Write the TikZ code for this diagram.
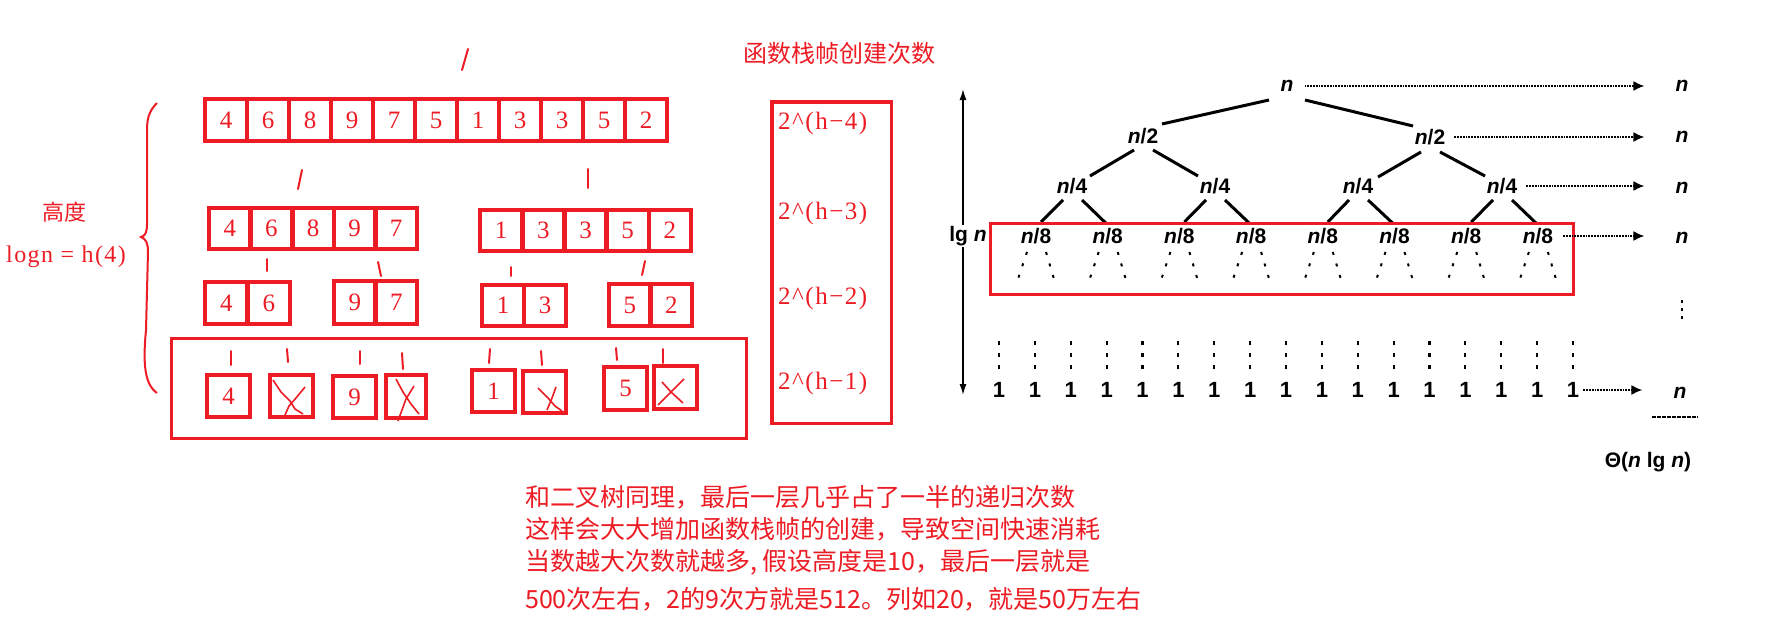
\documentclass[tikz,border=0pt]{standalone}
\usepackage{fontspec}
\setmainfont{Liberation Serif}
\newfontfamily\cjk{Noto Sans CJK SC}
\newfontfamily\sansb{Liberation Sans}
\usetikzlibrary{arrows.meta,calc}
\definecolor{pred}{RGB}{237,28,36}
\begin{document}
\begin{tikzpicture}[x=1pt,y=-1pt,
  acell/.style={draw=pred, line width=4.6pt, inner sep=0pt, outer sep=0pt, minimum height=42pt, text=pred, font=\fontsize{25}{27}\selectfont},
  tick/.style={draw=pred, line width=2pt, line cap=round},
  xmark/.style={draw=pred, line width=1.6pt, line join=round},
  tlab/.style={font=\sansb\bfseries\fontsize{21}{23}\selectfont, inner sep=1pt},
  onelab/.style={font=\sansb\bfseries\fontsize{22}{24}\selectfont, inner sep=1pt},
  tedge/.style={line width=3pt},
  darrow/.style={line width=1.8pt, densely dotted, -{Latex[length=11pt,width=10pt]}},
  subdash/.style={line width=2pt, dash pattern=on 3pt off 9pt},
  coldots/.style={line width=2.2pt, dash pattern=on 4pt off 8pt},
  redbox/.style={draw=pred, inner sep=0pt, outer sep=0pt},
  redtext/.style={text=pred, inner sep=0pt},
]
\useasboundingbox (0,0) rectangle (1771,626);
\fill[white] (0,0) rectangle (1771,626);

% ---------- left: arrays ----------
\draw[tick] (468,49) -- (462,70);
\foreach \v [count=\i from 0] in {4,6,8,9,7,5,1,3,3,5,2}
  \node[acell, minimum width=42pt] (a\i) at ({226+42*\i},120) {\v};

\draw[tick] (302,170) -- (298,189);
\draw[tick] (588,169) -- (588,188);

\foreach \v [count=\i from 0] in {4,6,8,9,7}
  \node[acell, minimum width=41.6pt, minimum height=41pt] (b\i) at ({229.8+41.6*\i},228.5) {\v};
\foreach \v [count=\i from 0] in {1,3,3,5,2}
  \node[acell, minimum width=42.2pt, minimum height=41pt] (c\i) at ({501.1+42.2*\i},230.5) {\v};

\draw[tick] (267,259) -- (267,271);
\draw[tick] (378,262) -- (381,276);
\draw[tick] (511,267) -- (511,276);
\draw[tick] (645,261) -- (642,275);

\foreach \v [count=\i from 0] in {4,6}
  \node[acell, minimum width=42.5pt] (d\i) at ({226.25+42.5*\i},303) {\v};
\foreach \v [count=\i from 0] in {9,7}
  \node[acell, minimum width=41.5pt, minimum height=43pt] (e\i) at ({354.75+41.5*\i},302.5) {\v};
\foreach \v [count=\i from 0] in {1,3}
  \node[acell, minimum width=42pt, minimum height=41pt] (f\i) at ({503+42*\i},305.5) {\v};
\foreach \v [count=\i from 0] in {5,2}
  \node[acell, minimum width=41.5pt] (g\i) at ({629.75+41.5*\i},305) {\v};

% bottom level
\node[redbox, line width=3pt, minimum width=575pt, minimum height=100pt] (leafbox) at (459,388.5) {};
\draw[tick] (231,351) -- (231,365);
\draw[tick] (287,349) -- (288,362);
\draw[tick] (360,351) -- (360,364);
\draw[tick] (402,353) -- (403,369);
\draw[tick] (490,349) -- (489,363);
\draw[tick] (541,351) -- (542,365);
\draw[tick] (616,348) -- (617,360);
\draw[tick] (663,349) -- (663,363);

\node[acell, minimum width=43pt] (l1) at (228.5,396) {4};
\node[acell, minimum width=43pt] (l2) at (291.5,396) {};
\node[acell, minimum width=43pt] (l3) at (354.5,397) {9};
\node[acell, minimum width=40pt, minimum height=43pt] (l4) at (406,396.5) {};
\node[acell, minimum width=43pt] (l5) at (493.5,391) {1};
\node[acell, minimum width=43pt] (l6) at (544.5,392) {};
\node[acell, minimum width=43pt, minimum height=43pt] (l7) at (625.5,388.5) {5};
\node[acell, minimum width=43pt, minimum height=43pt] (l8) at (675.5,387.5) {};

\draw[xmark] (273,380) -- (281,392) -- (290,401) -- (295,409) -- (303,414);
\draw[xmark] (305,387) -- (296,398) -- (289,406) -- (285,415);
\draw[xmark] (396,379) -- (403,392) -- (411,404) -- (419,414);
\draw[xmark] (414,386) -- (406,399) -- (398,421);
\draw[xmark] (538,388) -- (548,398) -- (555,406) -- (562,411);
\draw[xmark] (556,387) -- (552,398) -- (547,410);
\draw[xmark] (662,382) -- (671,392) -- (683,403);
\draw[xmark] (684,379) -- (673,390) -- (658,405);

% brace
\draw[pred, line width=2pt] (157,103) .. controls (148,112) and (147,120) .. (147,132)
  -- (147,224) .. controls (147,233) and (145,236) .. (141,237)
  .. controls (146,239) and (148,243) .. (148,252)
  -- (146,330) .. controls (143,362) and (144,384) .. (157,393);
\node[redtext, font=\cjk\fontsize{22}{24}\selectfont] (gaodu) at (64.5,212.5) {高度};
\node[redtext, anchor=west, font={\fontsize{24}{26}\selectfont\addfontfeatures{LetterSpace=6}}] (logn) at (6,257) {logn = h(4)};

% ---------- middle column ----------
\node[redtext, font=\cjk\fontsize{24}{26}\selectfont] (title) at (839.5,53) {函数栈帧创建次数};
\node[redbox, line width=3.5pt, minimum width=119.5pt, minimum height=321.5pt] (colbox) at (831.5,262.5) {};
\foreach \k/\y in {4/123,3/213,2/298,1/383}
  \node[redtext, anchor=west, font={\fontsize{25}{27}\selectfont\addfontfeatures{LetterSpace=6}}] (p\k) at (778,\y) {2\textasciicircum(h−\k)};

% ---------- right: recursion tree ----------
\node[tlab] (r) at (1287,86) {\itshape n};
\node[tlab] (h1) at (1143,136) {{\itshape n}/2};
\node[tlab] (h2) at (1430,137) {{\itshape n}/2};
\foreach \x [count=\i] in {1072,1215,1358,1502}
  \node[tlab] (q\i) at (\x,186) {{\itshape n}/4};
\foreach \i in {1,...,8}
  \node[tlab] (e\i) at ({1036+71.7*(\i-1)},236) {{\itshape n}/8};

\draw[tedge] ($(r)+(-18,14)$) -- ($(h1)+(19,-12)$);
\draw[tedge] ($(r)+(18,14)$) -- ($(h2)+(-17,-11)$);
\draw[tedge] ($(h1)+(-9,14)$) -- ($(q1)+(18,-10)$);
\draw[tedge] ($(h1)+(10,14)$) -- ($(q2)+(-17,-10)$);
\draw[tedge] ($(h2)+(-9,15)$) -- ($(q3)+(20,-9)$);
\draw[tedge] ($(h2)+(10,15)$) -- ($(q4)+(-17,-10)$);
\foreach \p/\a/\b in {1/1/2,2/3/4,3/5/6,4/7/8} {
  \draw[tedge] ($(q\p)+(-9,14)$) -- ($(e\a)+(5,-14)$);
  \draw[tedge] ($(q\p)+(10,14)$) -- ($(e\b)+(-2,-13)$);
}
\foreach \i in {1,...,8} {
  \draw[subdash] ($(e\i)+(-9,16)$) -- ($(e\i)+(-18,43)$);
  \draw[subdash] ($(e\i)+(10,16)$) -- ($(e\i)+(18,43)$);
}
\node[redbox, line width=3pt, minimum width=583pt, minimum height=71pt] (treebox) at (1282,259) {};

% leaves
\foreach \i in {0,...,16} {
  \draw[coldots] ({999+35.875*\i},341) -- ({999+35.875*\i},369);
  \node[onelab] (o\i) at ({999+35.875*\i},390) {1};
}

% lg n arrow
\coordinate (lgt) at (963,89);
\coordinate (lgb) at (963,395);
\draw[line width=1.5pt, {Latex[length=11pt,width=7pt]}-{Latex[length=11pt,width=7pt]}] (lgt) -- (lgb);
\node[tlab, fill=white] (lg) at (968,236) {lg {\itshape n}};

% right column
\node[tlab] (s1) at (1682,86) {\itshape n};
\node[tlab] (s2) at (1682,137) {\itshape n};
\node[tlab] (s3) at (1682,188) {\itshape n};
\node[tlab] (s4) at (1682,238) {\itshape n};
\node[tlab] (s5) at (1680,393) {\itshape n};
\draw[line width=2pt, dash pattern=on 3pt off 5pt] (1682,300) -- (1682,320);
\draw[line width=1.3pt, dash pattern=on 4pt off 1pt] (1652,417) -- (1698,417);
\node[tlab] (theta) at (1648,462) {Θ({\itshape n} lg {\itshape n})};

\draw[darrow, shorten <=10pt, shorten >=30pt] (r.east) -- (r.east -| s1.west);
\draw[darrow, shorten <=8pt, shorten >=30pt] (h2.east) -- (h2.east -| s2.west);
\draw[darrow, shorten <=8pt, shorten >=30pt] (q4.east) -- (q4.east -| s3.west);
\draw[darrow, shorten <=9pt, shorten >=30pt] (e8.east) -- (e8.east -| s4.west);
\draw[darrow, shorten <=3pt, shorten >=30pt] (o16.east) -- (o16.east -| s5.west);

% ---------- bottom text ----------
\foreach \t/\y [count=\i] in {和二叉树同理，最后一层几乎占了一半的递归次数/497,
  这样会大大增加函数栈帧的创建，导致空间快速消耗/529,
  {当数越大次数就越多, 假设高度是10，最后一层就是}/562,
  500次左右，2的9次方就是512。列如20，就是50万左右/599}
  \node[redtext, anchor=west, font=\cjk\fontsize{25}{27}\selectfont] (txt\i) at (525,\y) {\t};
\end{tikzpicture}
\end{document}
